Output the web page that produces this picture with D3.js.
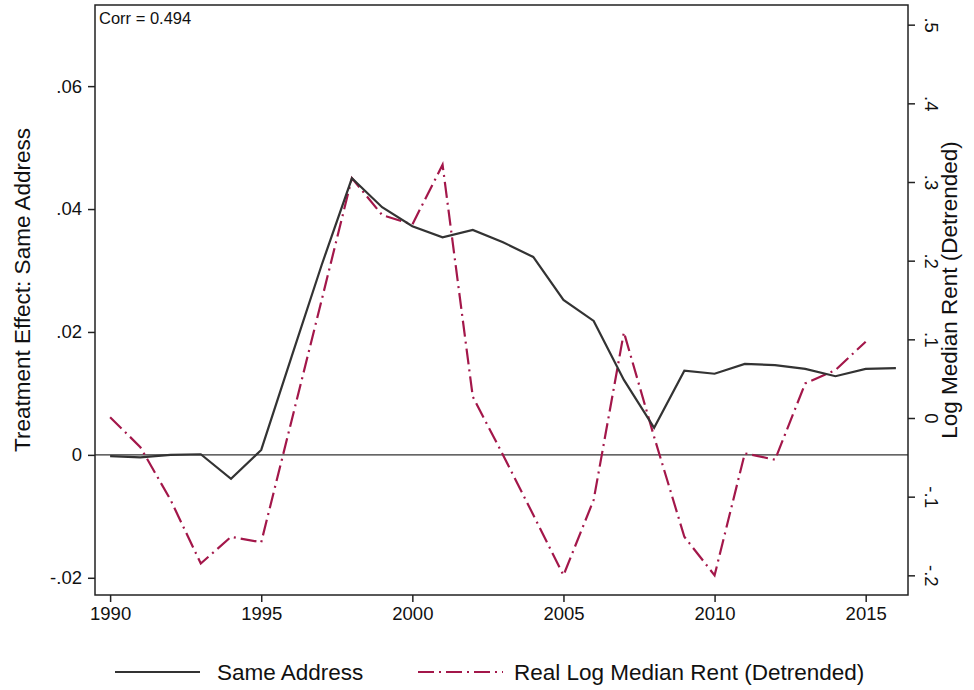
<!DOCTYPE html>
<html lang="en">
<head>
<meta charset="UTF-8">
<script src="https://d3js.org/d3.v7.min.js"></script>
<style>body{margin:0;background:#fff;font-family:"Liberation Sans",Arial,sans-serif}</style>
</head>
<body>
<div id="chart"></div>
<script>
var years = d3.range(1990, 2017);
var sameAddress = [-0.0002,-0.0004,0,0.0001,-0.0039,0.0008,0.0159,0.0309,0.0450,0.0403,0.0372,0.0354,0.0366,0.0346,0.0322,0.0252,0.0218,0.0122,0.0044,0.0137,0.0132,0.0148,0.0146,0.0140,0.0128,0.0140,0.0141];
var rentYears = d3.range(1990, 2016);
var logRent = [0.001,-0.037,-0.104,-0.185,-0.151,-0.158,-0.004,0.150,0.305,0.258,0.246,0.322,0.027,-0.047,-0.123,-0.200,-0.104,0.109,-0.024,-0.151,-0.200,-0.045,-0.053,0.044,0.061,0.097];
var leftTicks = [-0.02, 0, 0.02, 0.04, 0.06];
var leftLabels = ["-.02", "0", ".02", ".04", ".06"];
var rightTicks = [-0.2, -0.1, 0, 0.1, 0.2, 0.3, 0.4, 0.5];
var rightLabels = ["-.2", "-.1", "0", ".1", ".2", ".3", ".4", ".5"];
var xTicks = [1990, 1995, 2000, 2005, 2010, 2015];

var W = 974, H = 690;
var margin = {top: 5, right: 66, bottom: 95, left: 95};
var svg = d3.select("#chart").append("svg").attr("width", W).attr("height", H);
var plotW = W - margin.left - margin.right, plotH = H - margin.top - margin.bottom;
var g = svg.append("g").attr("transform", "translate(" + margin.left + "," + margin.top + ")");

var x = d3.scaleLinear().domain([1989.5, 2016.4]).range([0, plotW]);
var yL = d3.scaleLinear().domain([-0.0228, 0.0732]).range([plotH, 0]);
var yR = d3.scaleLinear().domain([-0.225, 0.525]).range([plotH, 0]);

// zero line
g.append("line").attr("x1", 0).attr("x2", plotW).attr("y1", yL(0)).attr("y2", yL(0))
  .attr("stroke", "#333").attr("stroke-width", 1.2);

// frame
g.append("rect").attr("width", plotW).attr("height", plotH).attr("fill", "none").attr("stroke", "#222").attr("stroke-width", 1.5);

// axes
var ax = g.append("g").attr("transform", "translate(0," + plotH + ")")
  .call(d3.axisBottom(x).tickValues(xTicks).tickFormat(d3.format("d")).tickSize(7).tickPadding(5));
var al = g.append("g").call(d3.axisLeft(yL).tickValues(leftTicks).tickFormat(function(d, i){ return leftLabels[i]; }).tickSize(7).tickPadding(6));
var ar = g.append("g").attr("transform", "translate(" + plotW + ",0)")
  .call(d3.axisRight(yR).tickValues(rightTicks).tickFormat(function(d, i){ return rightLabels[i]; }).tickSize(7).tickPadding(8));
[ax, al, ar].forEach(function(a){
  a.select(".domain").remove();
  a.selectAll("line").attr("stroke", "#222").attr("stroke-width", 1.5);
  a.selectAll("text").attr("font-size", 18.5).attr("fill", "#111").attr("font-family", "Liberation Sans, Arial, sans-serif");
});
ar.selectAll("text").attr("text-anchor", "middle").attr("dy", 0)
  .attr("transform", "translate(17,0) rotate(90)").attr("x", 0);

// lines
g.append("path").datum(logRent.map(function(v, i){ return [rentYears[i], v]; }))
  .attr("fill", "none").attr("stroke", "#a3174a").attr("stroke-width", 2.2)
  .attr("stroke-dasharray", "16,5,2,5")
  .attr("d", d3.line().x(function(d){ return x(d[0]); }).y(function(d){ return yR(d[1]); }));
g.append("path").datum(sameAddress.map(function(v, i){ return [years[i], v]; }))
  .attr("fill", "none").attr("stroke", "#333").attr("stroke-width", 2.2)
  .attr("d", d3.line().x(function(d){ return x(d[0]); }).y(function(d){ return yL(d[1]); }));

g.append("text").attr("x", 4).attr("y", 19).attr("font-size", 16.5).attr("fill", "#111").text("Corr = 0.494");

// axis titles
svg.append("text").attr("transform", "translate(30," + (margin.top + plotH / 2 - 10) + ") rotate(-90)")
  .attr("text-anchor", "middle").attr("font-size", 22.5).attr("fill", "#111").text("Treatment Effect: Same Address");
svg.append("text").attr("transform", "translate(957," + (margin.top + plotH / 2 - 10) + ") rotate(-90)")
  .attr("text-anchor", "middle").attr("font-size", 22.5).attr("fill", "#111").text("Log Median Rent (Detrended)");

// legend
var lg = svg.append("g").attr("transform", "translate(0,672)");
lg.append("line").attr("x1", 115).attr("x2", 200).attr("stroke", "#333").attr("stroke-width", 2.2);
lg.append("text").attr("x", 217).attr("y", 8).attr("font-size", 22.5).attr("fill", "#111").text("Same Address");
lg.append("line").attr("x1", 418).attr("x2", 503).attr("stroke", "#a3174a").attr("stroke-width", 2.2).attr("stroke-dasharray", "16,5,2,5");
lg.append("text").attr("x", 514).attr("y", 8).attr("font-size", 22.5).attr("fill", "#111").text("Real Log Median Rent (Detrended)");
</script>
</body>
</html>
